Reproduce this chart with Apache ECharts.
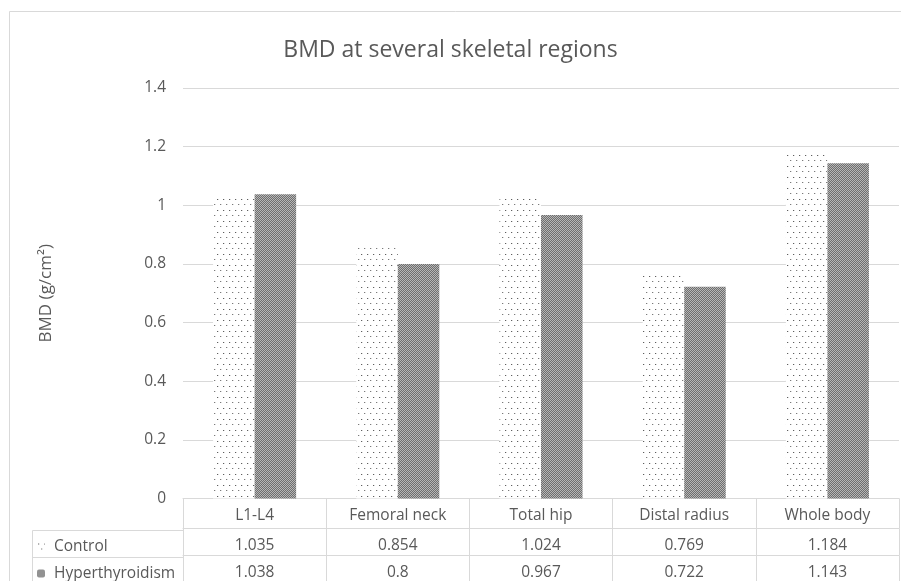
<!DOCTYPE html>
<html>
<head>
<meta charset="utf-8">
<script src="https://cdn.jsdelivr.net/npm/echarts@6/dist/echarts.min.js"></script>
<style>
html,body{margin:0;padding:0;background:#fff;}
#chart{width:901px;height:581px;}
</style>
</head>
<body>
<div id="chart"></div>
<script>
const titleText = 'BMD at several skeletal regions';
const yAxisTitle = 'BMD (g/cm\u00b2)';
const categories = ['L1-L4', 'Femoral neck', 'Total hip', 'Distal radius', 'Whole body'];
const seriesNames = ['Control', 'Hyperthyroidism'];
const controlValues = [1.035, 0.854, 1.024, 0.769, 1.184];
const hyperValues = [1.038, 0.8, 0.967, 0.722, 1.143];
const yMin = 0, yMax = 1.4, yStep = 0.2;

function dotPattern() {
  const c = document.createElement('canvas');
  c.width = 12; c.height = 11;
  const g = c.getContext('2d');
  g.fillStyle = '#ffffff'; g.fillRect(0, 0, 12, 11);
  g.fillStyle = '#5e5e5e';
  g.fillRect(1, 1, 1, 1); g.fillRect(7, 1, 1, 1);
  g.fillStyle = '#7a7a7a';
  g.fillRect(4, 6, 1, 1); g.fillRect(10, 6, 1, 1);
  g.fillStyle = '#dcdcdc';
  g.fillRect(2, 1, 1, 1); g.fillRect(8, 1, 1, 1);
  g.fillRect(5, 6, 1, 1); g.fillRect(11, 6, 1, 1);
  return c;
}
function checkPattern() {
  const c = document.createElement('canvas');
  c.width = 2; c.height = 2;
  const g = c.getContext('2d');
  g.fillStyle = '#6e6e6e'; g.fillRect(0, 0, 2, 2);
  g.fillStyle = '#b6b6b6'; g.fillRect(0, 0, 1, 1); g.fillRect(1, 1, 1, 1);
  return c;
}
const fontFamily = '"Open Sans", "Noto Sans", sans-serif';
const textColor = '#595959';
const lineColor = '#d9d9d9';
const fs = 15.5;

const chart = echarts.init(document.getElementById('chart'), null, {renderer: 'canvas'});
const controlFill = {image: dotPattern(), repeat: 'repeat'};
const hyperFill = {image: checkPattern(), repeat: 'repeat'};

function tableAxis(data, offset, tickLen) {
  return {
    type: 'category', gridIndex: 0, position: 'bottom', offset: offset,
    data: data,
    axisLine: {show: true, lineStyle: {color: lineColor, width: 1}},
    axisTick: {show: true, interval: 0, length: tickLen, lineStyle: {color: lineColor, width: 1}},
    axisLabel: {interval: 0, margin: 9.5, color: textColor, fontSize: fs, fontFamily: fontFamily},
    splitLine: {show: false}
  };
}
function legendRow(name, fill, top) {
  return {
    orient: 'horizontal', left: 37, top: top, padding: 0,
    itemWidth: 8, itemHeight: 8, itemGap: 0, selectedMode: false,
    textStyle: {color: textColor, fontSize: fs, fontFamily: fontFamily, padding: [0, 0, 0, 4]},
    data: [{name: name, itemStyle: {color: fill, borderWidth: 0}}]
  };
}

chart.setOption({
  animation: false,
  backgroundColor: '#ffffff',
  textStyle: {fontFamily: fontFamily},
  title: {
    text: titleText, left: 'center', top: 34,
    textStyle: {color: textColor, fontSize: 23, fontWeight: 'normal', fontFamily: fontFamily}
  },
  legend: [
    legendRow(seriesNames[0], controlFill, 538.5),
    legendRow(seriesNames[1], hyperFill, 565.5)
  ],
  grid: {left: 183, right: 2, top: 88, bottom: 81, containLabel: false},
  xAxis: [
    tableAxis(categories, 0, 30),
    tableAxis(controlValues.map(String), 30, 27),
    tableAxis(hyperValues.map(String), 57, 30)
  ],
  yAxis: {
    type: 'value', min: yMin, max: yMax, interval: yStep,
    name: yAxisTitle, nameLocation: 'middle', nameRotate: 90, nameGap: 128,
    nameTextStyle: {color: textColor, fontSize: 17, fontFamily: fontFamily},
    axisLine: {show: false}, axisTick: {show: false},
    axisLabel: {margin: 17, color: textColor, fontSize: fs, fontFamily: fontFamily,
      formatter: v => String(Math.round(v * 10) / 10)},
    splitLine: {lineStyle: {color: lineColor, width: 1}}
  },
  series: [
    {name: seriesNames[0], type: 'bar', xAxisIndex: 0, data: controlValues,
      barGap: '0%', barCategoryGap: '42%', itemStyle: {color: controlFill}},
    {name: seriesNames[1], type: 'bar', xAxisIndex: 0, data: hyperValues,
      barGap: '0%', barCategoryGap: '42%', itemStyle: {color: hyperFill}}
  ],
  graphic: [
    {type: 'rect', silent: true, z: -1, shape: {x: 9.5, y: 11.5, width: 1000, height: 1000},
      style: {fill: null, stroke: lineColor, lineWidth: 1}},
    {type: 'line', silent: true, shape: {x1: 32.5, y1: 530.5, x2: 183, y2: 530.5}, style: {stroke: lineColor, lineWidth: 1}},
    {type: 'line', silent: true, shape: {x1: 32.5, y1: 557.5, x2: 183, y2: 557.5}, style: {stroke: lineColor, lineWidth: 1}},
    {type: 'line', silent: true, shape: {x1: 32.5, y1: 530.5, x2: 32.5, y2: 600}, style: {stroke: lineColor, lineWidth: 1}}
  ]
});
</script>
</body>
</html>
